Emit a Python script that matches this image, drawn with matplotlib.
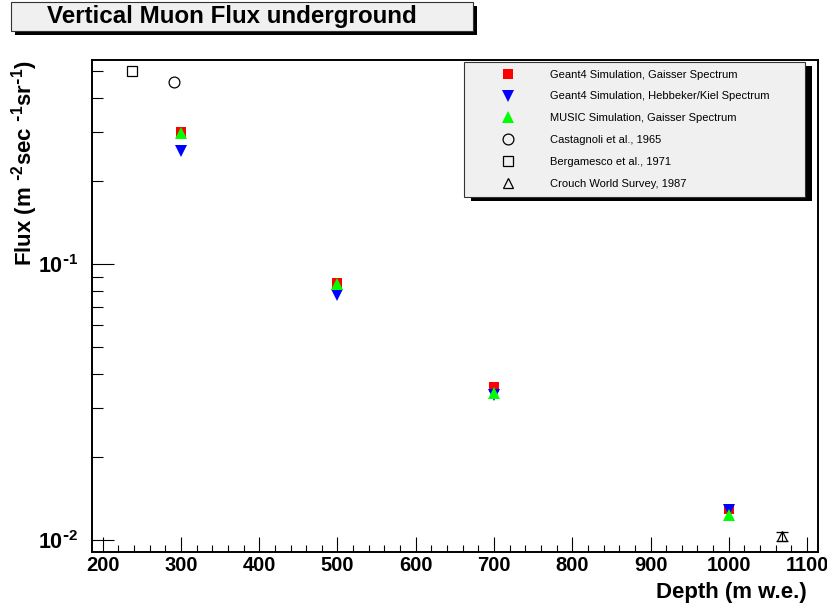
import matplotlib
matplotlib.use("Agg")
from matplotlib import pyplot as plt
from matplotlib.patches import Rectangle
from matplotlib.ticker import MultipleLocator, LogLocator, FuncFormatter, NullFormatter
import numpy as np

# simulated depths (m w.e.) and vertical flux values
depth_sim = [300, 500, 700, 1000]
flux_g4_gaisser = [0.300, 0.0855, 0.0357, 0.0130]
flux_g4_hebbeker = [0.256, 0.0770, 0.0335, 0.0129]
flux_music = [0.299, 0.0845, 0.0342, 0.0123]

# measurements
depth_castagnoli = [291]
flux_castagnoli = [0.457]
depth_bergamesco = [238]
flux_bergamesco = [0.50]
depth_crouch = [1068]
flux_crouch = [0.0103]
err_crouch = [0.0004]

labels = ["Geant4 Simulation, Gaisser Spectrum",
          "Geant4 Simulation, Hebbeker/Kiel Spectrum",
          "MUSIC Simulation, Gaisser Spectrum",
          "Castagnoli et al., 1965",
          "Bergamesco et al., 1971",
          "Crouch World Survey, 1987"]

plt.rcParams['font.family'] = ['Liberation Sans', 'DejaVu Sans']
plt.rcParams['font.weight'] = 'bold'
plt.rcParams['mathtext.default'] = 'regular'

W, H = 828, 606
fig = plt.figure(figsize=(W / 100, H / 100), dpi=100)


def box(x0, y0, x1, y1):
    return [x0 / W, 1 - y1 / H, (x1 - x0) / W, (y1 - y0) / H]


def pow10(v, pos):
    e = int(round(np.log10(v)))
    sign = r'\text{-}' if e < 0 else ''
    return r'$10^{%s%d}$' % (sign, abs(e))


ax = fig.add_axes(box(92, 60, 818, 552))

h1, = ax.plot(depth_sim, flux_g4_gaisser, 's', color='#ff0000', ms=7.5, mew=0, ls='none')
h2, = ax.plot(depth_sim, flux_g4_hebbeker, 'v', color='#0000ff', ms=8, mew=0, ls='none')
h3, = ax.plot(depth_sim, flux_music, '^', color='#00ff00', ms=8, mew=0, ls='none')
h4, = ax.plot(depth_castagnoli, flux_castagnoli, 'o', mfc='none', mec='black', ms=7.8, mew=0.9, ls='none')
h5, = ax.plot(depth_bergamesco, flux_bergamesco, 's', mfc='none', mec='black', ms=7.8, mew=0.9, ls='none')
eb = ax.errorbar(depth_crouch, flux_crouch, yerr=err_crouch, fmt='^', mfc='none', mec='black',
                 ms=7.5, mew=0.9, ecolor='black', elinewidth=0.8, capsize=4, capthick=0.8)
h6 = eb.lines[0]

ax.set_yscale('log')
ax.set_xlim(186.3, 1114)
ax.set_ylim(0.00905, 0.548)

ax.xaxis.set_major_locator(MultipleLocator(100))
ax.xaxis.set_minor_locator(MultipleLocator(20))
ax.yaxis.set_major_locator(LogLocator(base=10))
ax.yaxis.set_minor_locator(LogLocator(base=10, subs=range(2, 10)))
ax.yaxis.set_major_formatter(FuncFormatter(pow10))
ax.yaxis.set_minor_formatter(NullFormatter())

ax.tick_params(axis='x', which='major', direction='in', length=10.6, width=0.8, labelsize=14.5, pad=3)
ax.tick_params(axis='x', which='minor', direction='in', length=5, width=0.8)
ax.tick_params(axis='y', which='major', direction='in', length=15.8, width=0.8, labelsize=15.5, pad=10)
ax.tick_params(axis='y', which='minor', direction='in', length=7.9, width=0.8)
for s in ax.spines.values():
    s.set_linewidth(1.4)

ax.set_xlabel("Depth (m w.e.)", fontsize=16, fontweight='bold', loc='right')
ax.xaxis.set_label_coords((807 - 92) / 726, (552 - 582) / 492)
fig.text(25 / W, 1 - 60 / H, r"Flux (m $^{\text{-}2}$sec $^{\text{-}1}$sr$^{\text{-}1}$)", rotation=90,
         ha='center', va='top', fontsize=16, fontweight='bold')

# title box with shadow
fig.add_artist(Rectangle((15 / W, 1 - 35 / H), 462 / W, 29 / H, transform=fig.transFigure,
                         facecolor='black', edgecolor='none', zorder=3))
fig.add_artist(Rectangle((11 / W, 1 - 31 / H), 462 / W, 29 / H, transform=fig.transFigure,
                         facecolor='#f0f0f0', edgecolor='#333333', lw=0.8, zorder=3.5))
fig.text(232 / W, 1 - 17 / H, "Vertical Muon Flux underground", ha='center', va='center',
         fontsize=17.4, fontweight='bold', zorder=4)

# legend box with shadow
fig.add_artist(Rectangle((471 / W, 1 - 201 / H), 341 / W, 135 / H, transform=fig.transFigure,
                         facecolor='black', edgecolor='none', zorder=3))
fig.add_artist(Rectangle((464 / W, 1 - 197 / H), 341 / W, 135 / H, transform=fig.transFigure,
                         facecolor='#f0f0f0', edgecolor='#333333', lw=0.8, zorder=3.5))
leg = fig.legend([h1, h2, h3, h4, h5, h6], labels, loc='upper left',
                 bbox_to_anchor=(497 / W, 1 - 69.5 / H), bbox_transform=fig.transFigure,
                 frameon=False, prop={'weight': 'normal', 'size': 8}, numpoints=1,
                 handlelength=2, handletextpad=2.8, labelspacing=1.07,
                 borderpad=0, borderaxespad=0)
leg.set_zorder(5)

fig.savefig("out.png", dpi=100)
